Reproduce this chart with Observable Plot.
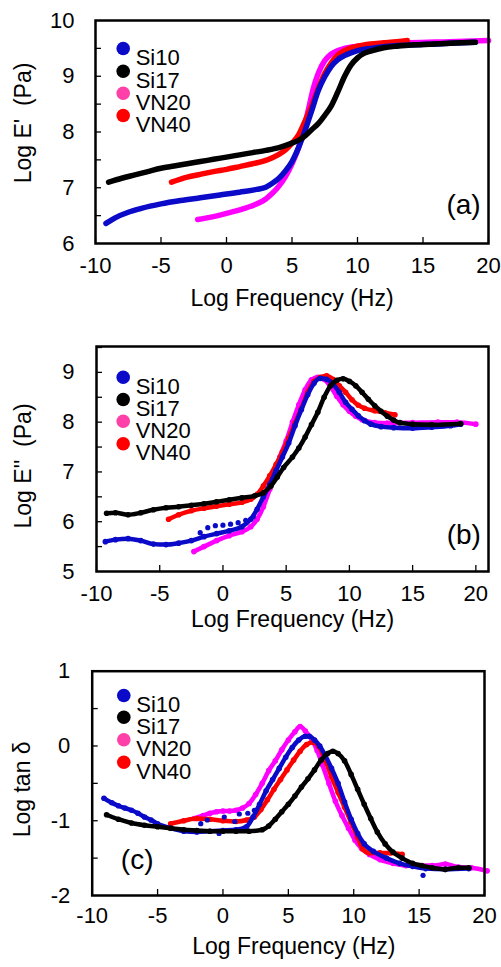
<!DOCTYPE html>
<html><head><meta charset="utf-8">
<script src="https://cdn.jsdelivr.net/npm/d3@7"></script>
<script src="https://cdn.jsdelivr.net/npm/@observablehq/plot@0.6"></script>
<style>
body{margin:0;background:#fff;}
#wrap{position:relative;width:501px;height:967px;background:#fff;}
#wrap > svg{position:absolute;left:0;}
</style></head><body><div id="wrap"></div>
<script>
const seriesNames = ["Si10", "Si17", "VN20", "VN40"];
const lineColors = ["#0a0ac8", "#000000", "#ff00ff", "#ff0000"];
const legendColors = ["#0a0ac8", "#000000", "#ff40a8", "#ff0000"];
const xTicks = [-10, -5, 0, 5, 10, 15, 20];

// Panel (a): Log E' vs Log frequency  [logF, logE']
const storageSi10 = [[-9.2,6.36],[-8.5,6.46],[-7.5,6.56],[-6.5,6.63],[-5,6.71],[-3.5,6.77],[-2,6.82],[-0.5,6.87],[1,6.92],[2.3,6.97],[3,7.01],[3.5,7.08],[4,7.17],[4.5,7.3],[5,7.47],[5.5,7.72],[6,8.03],[6.5,8.38],[7,8.74],[7.5,8.99],[8,9.18],[8.5,9.3],[9,9.37],[9.5,9.42],[10,9.46],[11,9.5],[12,9.53],[14,9.56],[16,9.58],[19,9.61]];
const storageSi17 = [[-9,7.1],[-8,7.17],[-7,7.23],[-6,7.29],[-5,7.35],[-4,7.39],[-3,7.43],[-2,7.47],[-1,7.51],[0,7.55],[1,7.59],[2,7.63],[3,7.67],[4,7.72],[5,7.8],[5.5,7.85],[6,7.93],[6.5,8.04],[7,8.15],[7.5,8.3],[8,8.47],[8.5,8.72],[9,8.99],[9.5,9.2],[10,9.33],[10.5,9.41],[11,9.45],[12,9.51],[13,9.54],[15,9.57],[17,9.59],[19,9.61]];
const storageVN20 = [[-2.2,6.43],[-1.5,6.46],[-0.5,6.51],[0.5,6.57],[1.5,6.64],[2.5,6.73],[3,6.8],[3.5,6.9],[4,7.03],[4.5,7.2],[5,7.43],[5.5,7.72],[6,8.15],[6.3,8.45],[6.6,8.76],[7,9.05],[7.5,9.28],[8,9.4],[8.5,9.46],[9,9.5],[10,9.54],[12,9.57],[14,9.6],[17,9.62],[20,9.64]];
const storageVN40 = [[-4.2,7.1],[-3,7.19],[-2,7.24],[-1,7.29],[0,7.33],[1,7.38],[2,7.43],[3,7.49],[3.5,7.54],[4,7.6],[4.5,7.68],[5,7.8],[5.5,7.95],[6,8.2],[6.5,8.47],[7,8.78],[7.5,9.05],[8,9.24],[8.5,9.38],[9,9.46],[10,9.54],[11,9.58],[12,9.6],[13,9.62],[13.8,9.64]];

// Panel (b): Log E'' vs Log frequency
const lossSi10 = [[-9.3,5.6],[-8.5,5.64],[-7.5,5.66],[-6.5,5.62],[-5.5,5.55],[-4.5,5.54],[-3.5,5.57],[-2.5,5.62],[-1.5,5.7],[-0.5,5.76],[0.5,5.82],[1.5,5.9],[2.2,6.05],[2.7,6.25],[3.2,6.5],[3.7,6.75],[4.2,7.03],[4.7,7.3],[5.2,7.58],[5.7,7.93],[6.2,8.25],[6.7,8.55],[7.2,8.78],[7.7,8.88],[8.2,8.86],[8.7,8.77],[9.2,8.6],[9.7,8.4],[10.2,8.26],[10.7,8.13],[11.2,8.03],[11.7,7.96],[12.5,7.91],[13.5,7.89],[15,7.88],[16.5,7.9],[18,7.93],[18.8,7.96]];
const lossSi10Scatter = [[-1.8,5.78],[-1.2,5.88],[-0.6,5.92],[0,5.93],[0.6,5.95],[1.2,5.98],[1.8,6.03],[2.4,6.1]];
const lossSi17 = [[-9.2,6.17],[-8.5,6.18],[-7.5,6.14],[-6.5,6.18],[-5.5,6.24],[-4.5,6.28],[-3.5,6.3],[-2.5,6.33],[-1.5,6.36],[-0.5,6.4],[0.5,6.44],[1.5,6.48],[2.5,6.52],[3.2,6.58],[3.8,6.72],[4.3,6.9],[4.8,7.09],[5.5,7.3],[6,7.48],[6.5,7.7],[7,7.95],[7.5,8.2],[8,8.5],[8.5,8.73],[9,8.84],[9.5,8.87],[10,8.82],[10.5,8.73],[11,8.6],[11.5,8.46],[12,8.33],[12.5,8.22],[13,8.12],[13.5,8.04],[14,7.99],[15,7.96],[16.5,7.95],[18.8,7.97]];
const lossVN20 = [[-2.3,5.4],[-1.5,5.5],[-0.5,5.62],[0.5,5.72],[1.5,5.8],[2.2,5.9],[2.7,6.05],[3.2,6.3],[3.7,6.65],[4.1,6.95],[4.5,7.3],[5,7.62],[5.5,8.0],[6,8.35],[6.5,8.65],[7,8.85],[7.5,8.9],[8,8.86],[8.5,8.72],[9,8.52],[9.5,8.35],[10,8.22],[10.5,8.12],[11,8.05],[12,7.99],[13,7.98],[15,7.99],[17,8.0],[18.5,8.0],[20,7.96]];
const lossVN40 = [[-4.3,6.05],[-3.5,6.14],[-2.5,6.22],[-1.5,6.27],[-0.5,6.31],[0.5,6.35],[1.5,6.39],[2.2,6.45],[2.7,6.55],[3.2,6.72],[3.7,6.92],[4.2,7.15],[4.7,7.4],[5.2,7.68],[5.7,7.98],[6.2,8.27],[6.7,8.6],[7.2,8.82],[7.7,8.9],[8.2,8.93],[8.7,8.86],[9.2,8.73],[9.7,8.6],[10.2,8.45],[10.7,8.34],[11.2,8.28],[12,8.23],[12.8,8.19],[13.6,8.15]];

// Panel (c): Log tan delta vs Log frequency
const tanSi10 = [[-9.1,-0.7],[-8.5,-0.76],[-8,-0.8],[-7.5,-0.83],[-7,-0.86],[-6.5,-0.9],[-6,-0.95],[-5.5,-0.99],[-5,-1.04],[-4,-1.1],[-3,-1.14],[-2,-1.15],[-1,-1.14],[0,-1.13],[1,-1.12],[1.8,-1.08],[2.3,-0.95],[2.8,-0.78],[3.3,-0.6],[3.8,-0.45],[4.3,-0.3],[4.8,-0.15],[5.3,-0.02],[5.8,0.08],[6.3,0.13],[6.6,0.13],[7,0.08],[7.4,0.0],[7.8,-0.12],[8.3,-0.3],[8.8,-0.5],[9.3,-0.75],[9.8,-0.98],[10.3,-1.17],[10.8,-1.31],[11.5,-1.41],[12.5,-1.5],[13.5,-1.57],[14.5,-1.61],[15.5,-1.64],[17,-1.65],[18.8,-1.64]];
const tanSi10Scatter = [[-1.7,-1.04],[-1.2,-0.99],[0.1,-0.95],[0.9,-1.01],[1.25,-0.91],[1.9,-0.9],[2.4,-0.86],[-0.3,-1.17],[15.3,-1.73]];
const tanSi17 = [[-8.9,-0.92],[-8,-0.98],[-7,-1.03],[-6,-1.06],[-5,-1.08],[-4,-1.1],[-3,-1.12],[-2,-1.13],[-1,-1.14],[0,-1.14],[1,-1.14],[2,-1.14],[3,-1.12],[3.5,-1.07],[4,-0.98],[4.5,-0.88],[5,-0.78],[5.5,-0.67],[6,-0.55],[6.5,-0.44],[7,-0.32],[7.5,-0.19],[8,-0.1],[8.4,-0.07],[8.8,-0.1],[9.3,-0.2],[9.8,-0.38],[10.3,-0.58],[10.8,-0.78],[11.3,-0.97],[11.8,-1.15],[12.4,-1.31],[13,-1.42],[13.7,-1.5],[14.5,-1.57],[15.2,-1.6],[16,-1.63],[17,-1.65],[18,-1.63],[18.8,-1.63]];
const tanVN20 = [[-2.2,-0.97],[-1.5,-0.93],[-1,-0.9],[-0.5,-0.88],[0,-0.87],[0.5,-0.87],[1,-0.86],[1.5,-0.83],[2,-0.77],[2.5,-0.65],[3,-0.5],[3.5,-0.33],[4,-0.2],[4.5,-0.05],[5,0.08],[5.5,0.19],[5.9,0.26],[6.3,0.2],[6.8,0.08],[7.2,-0.06],[7.6,-0.25],[8.1,-0.5],[8.6,-0.74],[9.1,-0.93],[9.6,-1.1],[10.1,-1.26],[10.6,-1.37],[11.2,-1.45],[12,-1.52],[13,-1.57],[14,-1.6],[15,-1.6],[16,-1.6],[17,-1.58],[18,-1.62],[19,-1.63],[20.2,-1.67]];
const tanVN40 = [[-4,-1.04],[-3,-1.0],[-2,-0.97],[-1,-0.98],[0,-1.0],[1,-1.01],[1.8,-0.99],[2.4,-0.95],[2.9,-0.85],[3.4,-0.72],[3.9,-0.58],[4.4,-0.45],[4.9,-0.32],[5.4,-0.19],[5.9,-0.07],[6.4,0.02],[6.9,0.05],[7.3,0.0],[7.8,-0.18],[8.3,-0.41],[8.8,-0.62],[9.3,-0.82],[9.8,-1.02],[10.3,-1.22],[10.7,-1.38],[11.2,-1.43],[12,-1.43],[12.8,-1.43],[13.7,-1.45]];

const FONT = "'Liberation Sans', Arial, Helvetica, sans-serif";

function panel(cfg) {
  const order = [2, 3, 0, 1]; // draw magenta, red, blue, black (black on top)
  const marks = [];
  for (const i of order) {
    marks.push(Plot.line(cfg.series[i], {x: d => d[0], y: d => d[1], stroke: lineColors[i], strokeWidth: cfg.lineWidth, curve: "monotone-x", strokeLinecap: "round", strokeLinejoin: "round"}));
    if (cfg.dotR) marks.push(Plot.dot(cfg.series[i], {x: d => d[0], y: d => d[1], fill: lineColors[i], r: cfg.dotR}));
    if (cfg.scatter && cfg.scatter[i]) marks.push(Plot.dot(cfg.scatter[i], {x: d => d[0], y: d => d[1], fill: lineColors[i], r: 2.6}));
  }
  seriesNames.forEach((name, i) => {
    marks.push(Plot.dot([name], {frameAnchor: "top-left", dx: cfg.legDx, dy: cfg.legDy[i], r: 6.8, fill: legendColors[i]}));
    marks.push(Plot.text([name], {text: d => d, frameAnchor: "top-left", dx: cfg.legDx + 12.5, dy: cfg.legDy[i] + 1, textAnchor: "start", fontSize: 22, fill: "#000"}));
  });
  marks.push(
    Plot.axisX(xTicks, {tickSize: 6, dy: -6, tickFormat: () => "", label: null, strokeWidth: 1.3}),
    Plot.axisX(xTicks, {tickSize: 0, tickPadding: cfg.xTickPad, tickFormat: d => String(d), label: null, fontSize: 22}),
    Plot.axisY(cfg.yMinor, {tickSize: 6, dx: 6, tickFormat: () => "", label: null, strokeWidth: 1.3}),
    Plot.axisY(cfg.yLabels, {tickSize: 0, tickPadding: cfg.yTickPad, tickFormat: d => String(d), label: null, fontSize: 22}),
    Plot.frame({stroke: "#000", strokeWidth: 2.5}),
    Plot.text([cfg.yTitle], {text: d => d, frameAnchor: "left", rotate: -90, dx: cfg.yTitleDx, dy: cfg.yTitleDy, textAnchor: "middle", fontSize: 23}),
    Plot.text(["Log\u00a0Frequency (Hz)"], {text: d => d, frameAnchor: "bottom", dx: cfg.xTitleDx, dy: cfg.xTitleDy, textAnchor: "middle", fontSize: 23}),
    Plot.text([cfg.tag], {text: d => d, frameAnchor: cfg.tagAnchor, dx: cfg.tagDx, dy: cfg.tagDy, textAnchor: "middle", fontSize: 28})
  );
  const svg = Plot.plot({
    width: 501,
    height: cfg.height,
    marginTop: cfg.mt, marginBottom: cfg.mb, marginLeft: cfg.ml, marginRight: cfg.mr,
    x: {domain: cfg.xDomain},
    y: {domain: cfg.yDomain},
    style: {fontFamily: FONT, fontSize: "22px", color: "#000", background: "transparent", overflow: "visible"},
    marks
  });
  svg.style.top = cfg.top + "px";
  document.getElementById("wrap").appendChild(svg);
}

panel({
  top: 0, height: 320, mt: 20, mb: 77, ml: 95, mr: 13,
  xDomain: [-10, 20], yDomain: [6, 10],
  yMinor: [6.5, 7, 7.5, 8, 8.5, 9, 9.5], yLabels: [6, 7, 8, 9, 10],
  series: [storageSi10, storageSi17, storageVN20, storageVN40],
  lineWidth: 5.5, dotR: 0,
  legDx: 27.7, legDy: [28, 50.7, 72.7, 95],
  xTickPad: 14, yTickPad: 21,
  yTitle: "Log E'\u00a0\u00a0(Pa)", yTitleDx: -71.7, yTitleDy: -9,
  xTitleDx: 0, xTitleDy: 62,
  tag: "(a)", tagAnchor: "bottom-right", tagDx: -25, tagDy: -30
});

panel({
  top: 320, height: 320, mt: 26, mb: 69, ml: 96, mr: 13,
  xDomain: [-10, 21], yDomain: [5, 9.52],
  yMinor: [5.5, 6, 6.5, 7, 7.5, 8, 8.5, 9, 9.5], yLabels: [5, 6, 7, 8, 9],
  series: [lossSi10, lossSi17, lossVN20, lossVN40],
  scatter: [lossSi10Scatter, null, null, null],
  lineWidth: 4.5, dotR: 2.8,
  legDx: 26.7, legDy: [30.7, 53, 74.7, 97.3],
  xTickPad: 14, yTickPad: 22,
  yTitle: "Log E''\u00a0\u00a0(Pa)", yTitleDx: -72.7, yTitleDy: 7,
  xTitleDx: 0, xTitleDy: 55.7,
  tag: "(b)", tagAnchor: "bottom-right", tagDx: -24.7, tagDy: -27.7
});

panel({
  top: 640, height: 327, mt: 30.7, mb: 72, ml: 91.7, mr: 17,
  xDomain: [-10, 20], yDomain: [-2, 1],
  yMinor: [-1.5, -1, -0.5, 0, 0.5], yLabels: [-2, -1, 0, 1],
  series: [tanSi10, tanSi17, tanVN20, tanVN40],
  scatter: [tanSi10Scatter, null, null, null],
  lineWidth: 4.5, dotR: 2.8,
  legDx: 31.6, legDy: [24.3, 46, 68.6, 91],
  xTickPad: 12, yTickPad: 22,
  yTitle: "Log tan\u00a0\u03b4", yTitleDx: -70, yTitleDy: 6,
  xTitleDx: 5.5, xTitleDy: 58.3,
  tag: "(c)", tagAnchor: "bottom-left", tagDx: 45, tagDy: -26.7
});
</script>
</body></html>
